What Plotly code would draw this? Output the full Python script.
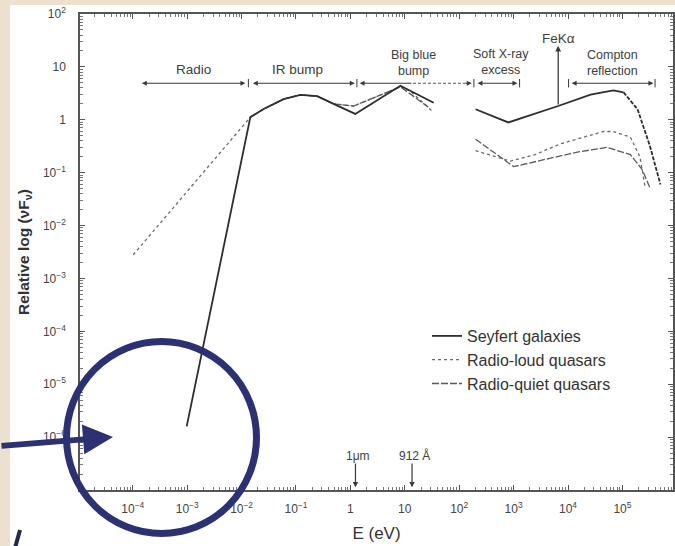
import math
import plotly.graph_objects as go

# ---------------- data ----------------
# Seyfert galaxies (solid), energy in eV, relative nuFnu
sey_E = [9.8e-4, 0.0145, 0.025, 0.059, 0.12, 0.245, 0.49, 1.23, 8.3, 34,
         None, 200, 800, 6600, 2.6e4, 6.8e4, 1.05e5]
sey_F = [1.6e-6, 1.12, 1.58, 2.45, 2.95, 2.8, 2.0, 1.29, 4.4, 2.1,
         None, 1.58, 0.89, 1.82, 3.0, 3.6, 3.3]
# high-energy roll-over of the Seyfert curve (drawn dashed)
sey_tail_E = [1.05e5, 1.9e5, 3.2e5, 5.0e5]
sey_tail_F = [3.3, 1.58, 0.32, 0.06]

# Radio-loud quasars (dotted)
rl_E = [1.02e-4, 0.0145, 0.025, 0.059, 0.12, 0.245, 0.49, 1.15, 8.3, 12.6, 32,
        None, 200, 870, 2500, 7200, 4.5e4, 6.8e4, 1.4e5, 2.1e5, 2.6e5]
rl_F = [2.8e-3, 1.12, 1.58, 2.45, 2.95, 2.8, 2.0, 1.82, 4.2, 3.5, 1.45,
        None, 0.26, 0.166, 0.22, 0.35, 0.60, 0.60, 0.47, 0.20, 0.055]

# Radio-quiet quasars (dashed)
rq_E = [0.0145, 0.025, 0.059, 0.12, 0.245, 0.49, 1.15, 8.3, 27,
        None, 200, 1000, 1.48e4, 5.2e4, 1.4e5, 2.3e5, 3.2e5]
rq_F = [1.12, 1.58, 2.45, 2.95, 2.8, 2.0, 1.82, 4.2, 1.74,
        None, 0.43, 0.13, 0.245, 0.30, 0.22, 0.115, 0.052]

series_names = ["Seyfert galaxies", "Radio-loud quasars", "Radio-quiet quasars"]

x_tickvals = [1e-4, 1e-3, 1e-2, 1e-1, 1, 10, 1e2, 1e3, 1e4, 1e5]
x_ticktext = ["10<sup>−4</sup>", "10<sup>−3</sup>", "10<sup>−2</sup>", "10<sup>−1</sup>",
              "1", "10", "10<sup>2</sup>", "10<sup>3</sup>", "10<sup>4</sup>", "10<sup>5</sup>"]
y_tickvals = [1e2, 10, 1, 1e-1, 1e-2, 1e-3, 1e-4, 1e-5, 1e-6]
y_ticktext = ["10<sup>2</sup>", "10", "1", "10<sup>−1</sup>", "10<sup>−2</sup>",
              "10<sup>−3</sup>", "10<sup>−4</sup>", "10<sup>−5</sup>", "10<sup>−6</sup>"]

marker_E = [1.24, 13.6]          # 1 micron and 912 Angstrom in eV
marker_text = ["1μm", "912 Å"]
feka_E = 6600                    # Fe K-alpha line position on the curve

# ---------------- figure ----------------
L = math.log10
INK = "#3a3a3a"
FONT = "Liberation Sans, Arial, sans-serif"

fig = go.Figure()
fig.add_trace(go.Scatter(x=rl_E, y=rl_F, mode="lines", name=series_names[1],
                         line=dict(color="#6a6a6a", width=1.3, dash="dot"),
                         legendrank=2))
fig.add_trace(go.Scatter(x=rq_E, y=rq_F, mode="lines", name=series_names[2],
                         line=dict(color="#5a5a5a", width=1.3, dash="7px,2px"),
                         legendrank=3))
fig.add_trace(go.Scatter(x=sey_E, y=sey_F, mode="lines", name=series_names[0],
                         line=dict(color="#2e2e2e", width=1.8),
                         legendrank=1))
fig.add_trace(go.Scatter(x=sey_tail_E, y=sey_tail_F, mode="lines", showlegend=False,
                         line=dict(color="#2e2e2e", width=1.8, dash="4px,1.5px"),
                         hoverinfo="skip"))

ann = []
shapes = []
BR_Y = 4.9      # height of the band brackets
TXT = dict(family=FONT, size=13.5, color="#404040")
TXT2 = dict(family=FONT, size=12.5, color="#404040")


def bracket(e0, e1, heads="end+start"):
    ann.append(dict(x=L(e1), y=L(BR_Y), ax=L(e0), ay=L(BR_Y), xref="x", yref="y",
                    axref="x", ayref="y", text="", showarrow=True, arrowhead=2,
                    arrowsize=0.9, arrowwidth=1.1, arrowcolor=INK, arrowside=heads,
                    startarrowhead=2, startarrowsize=0.9))


def tick(e):
    shapes.append(dict(type="line", xref="x", yref="y", x0=e, x1=e, y0=4.1, y1=5.9,
                       line=dict(color=INK, width=1)))


bracket(10 ** -3.86, 10 ** -1.93)
tick(10 ** -1.875)
bracket(10 ** -1.82, 10 ** 0.08)
tick(10 ** 0.12)
ann.append(dict(x=L(10 ** 0.17), y=L(BR_Y), ax=L(10 ** 1.15), ay=L(BR_Y), xref="x", yref="y",
                axref="x", ayref="y", text="", showarrow=True, arrowhead=2,
                arrowsize=0.9, arrowwidth=1.1, arrowcolor=INK))
shapes.append(dict(type="line", xref="x", yref="y", x0=10 ** 1.15, x1=10 ** 2.15,
                   y0=BR_Y, y1=BR_Y, line=dict(color="#555", width=1.1, dash="3px,2px")))
ann.append(dict(x=L(10 ** 2.23), y=L(BR_Y), ax=L(10 ** 2.1), ay=L(BR_Y), xref="x", yref="y",
                axref="x", ayref="y", text="", showarrow=True, arrowhead=2,
                arrowsize=0.9, arrowwidth=1.1, arrowcolor=INK))
tick(10 ** 2.27)
bracket(10 ** 2.31, 10 ** 3.07)
tick(10 ** 3.11)
bracket(10 ** 4.04, 10 ** 5.57)
tick(10 ** 4.01)
tick(10 ** 5.6)

# Fe K alpha arrow
ann.append(dict(x=L(feka_E), y=1.40, ax=L(feka_E), ay=L(1.82), xref="x", yref="y",
                axref="x", ayref="y", text="", showarrow=True, arrowhead=2,
                arrowsize=0.9, arrowwidth=1.3, arrowcolor=INK))
ann.append(dict(x=L(feka_E), y=1.53, xref="x", yref="y", text="FeKα", showarrow=False,
                font=TXT))

# band labels
for xl, yl, t, f in [(-2.89, 0.96, "Radio", TXT), (-0.97, 0.96, "IR bump", TXT),
                     (1.16, 1.08, "Big blue<br>bump", TXT2),
                     (2.76, 1.09, "Soft X-ray<br>excess", TXT2),
                     (4.82, 1.075, "Compton<br>reflection", TXT2)]:
    ann.append(dict(x=xl, y=yl, xref="x", yref="y", text=t, showarrow=False,
                    font=f, align="center"))

# 1 micron / 912 A markers
for e, t in zip(marker_E, marker_text):
    ann.append(dict(x=L(e), y=-6.95, ax=L(e), ay=-6.47, xref="x", yref="y",
                    axref="x", ayref="y", text="", showarrow=True, arrowhead=2,
                    arrowsize=0.9, arrowwidth=1.2, arrowcolor=INK))
    ann.append(dict(x=L(e) + 0.05, y=-6.35, xref="x", yref="y", text=t, showarrow=False,
                    font=dict(family=FONT, size=12, color="#404040")))

# ---------- page decoration: white sheet on beige, blue circle + arrow ----------
PW, PH, ML, MT = 593.0, 476.0, 80.0, 14.0


def px(x):
    return (x - ML) / PW


def py(y):
    return (MT + PH - y) / PH


shapes.append(dict(type="rect", xref="paper", yref="paper", x0=px(10), x1=px(700),
                   y0=py(600), y1=py(5), fillcolor="white", line=dict(width=0),
                   layer="below"))
NAVY = "#2b3172"
shapes.append(dict(type="circle", xref="paper", yref="paper", x0=px(66.5), x1=px(256.5),
                   y0=py(533.5), y1=py(341.5), line=dict(color=NAVY, width=7),
                   layer="above"))
shapes.append(dict(type="line", xref="paper", yref="paper", x0=px(15), y0=py(548),
                   x1=px(20), y1=py(530), line=dict(color="#26284a", width=4)))
ann.append(dict(x=px(113), y=py(437), xref="paper", yref="paper", ax=-113, ay=9,
                text="", showarrow=True, arrowhead=2, arrowsize=1, arrowwidth=6,
                arrowcolor=NAVY))

axis_common = dict(type="log", showgrid=False, zeroline=False, showline=True,
                   automargin=False,
                   linecolor="#555", linewidth=1.5, mirror="ticks", ticks="inside",
                   ticklen=5, tickwidth=1.2, tickcolor="#555",
                   tickfont=dict(family=FONT, size=12, color="#444"),
                   minor=dict(ticks="inside", ticklen=3, tickwidth=1, tickcolor="#777",
                              dtick="D1", showgrid=False))

fig.update_layout(
    width=675, height=546,
    margin=dict(l=80, r=2, t=14, b=56),
    paper_bgcolor="#ebe1ce", plot_bgcolor="white",
    font=dict(family=FONT, color="#333"),
    xaxis=dict(axis_common, range=[-4.97, 5.93], tickmode="array",
               tickvals=x_tickvals, ticktext=x_ticktext, ticklabelstandoff=7,
               title=dict(text="E (eV)", font=dict(family=FONT, size=17, color="#333"),
                          standoff=12)),
    yaxis=dict(axis_common, range=[-7, 2], tickmode="array",
               tickvals=y_tickvals, ticktext=y_ticktext, ticklabelstandoff=10,
               title=dict(text="<b>Relative log (νF<sub>ν</sub>)</b>",
                          font=dict(family=FONT, size=15.5, color="#333"), standoff=10)),
    legend=dict(x=px(427), y=py(319), xanchor="left", yanchor="top",
                bgcolor="rgba(0,0,0,0)", font=dict(family=FONT, size=16, color="#333"),
                tracegroupgap=0),
    showlegend=True,
    annotations=ann, shapes=shapes,
)

fig.write_html("out.html", config={"displayModeBar": False},
               post_script="document.body.style.margin='0';"
                           "document.body.style.overflow='hidden';"
                           "document.body.style.background='#ebe1ce';")
